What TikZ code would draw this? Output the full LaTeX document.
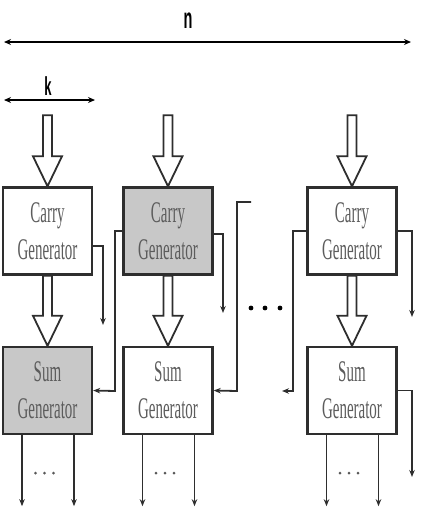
\documentclass[tikz,border=0pt]{standalone}
\usepackage{fontspec}
\usetikzlibrary{arrows.meta,calc}
\newfontfamily\condserif[FakeStretch=0.5]{Liberation Serif}
\newfontfamily\condsans[FakeStretch=0.5]{Liberation Sans Bold}
\definecolor{linec}{HTML}{2E2E2E}
\definecolor{textc}{HTML}{5C5C5C}
\definecolor{fillc}{HTML}{C8C8C8}
\begin{document}
\begin{tikzpicture}[x=1pt,y=-1pt,
  gen/.style={draw=linec,line width=2.4pt,minimum width=89pt,minimum height=87pt,
    inner sep=0pt,align=center,text=textc,font=\condserif\fontsize{30}{37}\selectfont},
  shaded/.style={fill=fillc},
  wire/.style={draw=linec,line width=1.8pt},
  tip/.style={-{Stealth[length=7pt,width=5.5pt]}},
  fat/.style={draw=linec,line width=1.8pt,fill=white,line join=miter},
  dim/.style={draw=black,{Stealth[length=7pt,width=6pt]}-{Stealth[length=7pt,width=6pt]}},
  lbl/.style={font=\condsans,text=black,inner sep=0pt}]
\useasboundingbox (0,0) rectangle (425,523);
% dimension arrows
\coordinate (nl) at (4,42); \coordinate (nr) at (411,42);
\draw[dim,line width=2.8pt] (nl) -- (nr);
\node[lbl,font=\condsans\fontsize{29}{29}\selectfont] (n) at (188,21) {n};
\coordinate (kl) at (4,100); \coordinate (kr) at (95,100);
\draw[dim,line width=2pt] (kl) -- (kr);
\node[lbl,font=\condsans\fontsize{26}{26}\selectfont] (k) at (48,86) {k};
% boxes
\node[gen] (c1) at (47.5,231) {Carry\\Generator};
\node[gen,shaded] (c2) at (168,231) {Carry\\Generator};
\node[gen] (c3) at (352,231) {Carry\\Generator};
\node[gen,shaded] (s1) at (47.5,390.5) {Sum\\Generator};
\node[gen] (s2) at (168,390.5) {Sum\\Generator};
\node[gen] (s3) at (352,390.5) {Sum\\Generator};
% fat arrows
\foreach \b in {c1,c2,c3}{
  \draw[fat] ($(\b.north)+(-4.5,-71)$) -- ($(\b.north)+(4.5,-71)$) -- ($(\b.north)+(4.5,-30)$)
    -- ($(\b.north)+(14.5,-30)$) -- (\b.north) -- ($(\b.north)+(-14.5,-30)$)
    -- ($(\b.north)+(-4.5,-30)$) -- cycle;}
\foreach \a/\b in {c1/s1,c2/s2,c3/s3}{
  \draw[fat] ($(\a.south)+(-4.5,0)$) -- ($(\a.south)+(4.5,0)$) -- ($(\b.north)+(4.5,-30)$)
    -- ($(\b.north)+(14.5,-30)$) -- (\b.north) -- ($(\b.north)+(-14.5,-30)$)
    -- ($(\b.north)+(-4.5,-30)$) -- cycle;}
% carry wires
\coordinate (o1) at (103,325);
\draw[wire,tip] (c1.east|-0,246) -| (o1);
\draw[wire,tip] (c2.west) -| (115,391) -- (s1.east);
\coordinate (o2) at (223,313);
\draw[wire,tip] (c2.east|-0,234) -| (o2);
\coordinate (st) at (251,202);
\draw[wire,tip] (st) -| (237,391) -- (s2.east);
\coordinate (o3) at (282,391);
\draw[wire,tip] (c3.west) -| (293,391) -- (o3);
\coordinate (o4) at (412,317);
\draw[wire,tip] (c3.east) -| (o4);
\coordinate (o5) at (412,477);
\draw[wire,tip] (s3.east) -| (o5);
% sum outputs
\foreach \s in {s1,s2,s3}{
  \coordinate (\s l) at ($(\s.south)+(-25.5,71)$);
  \coordinate (\s r) at ($(\s.south)+(26.5,71)$);
  \draw[wire,tip] (\s.south-|\s l) -- (\s l);
  \draw[wire,tip] (\s.south-|\s r) -- (\s r);
  \foreach \dx in {-9,0,9} \fill[linec!80] ($(\s.south)+(\dx-3,38)$) circle (1.5pt);
}
% dots between columns
\foreach \x in {251,265,280} \fill[black] (\x,308) circle (2.4pt);
\end{tikzpicture}
\end{document}
